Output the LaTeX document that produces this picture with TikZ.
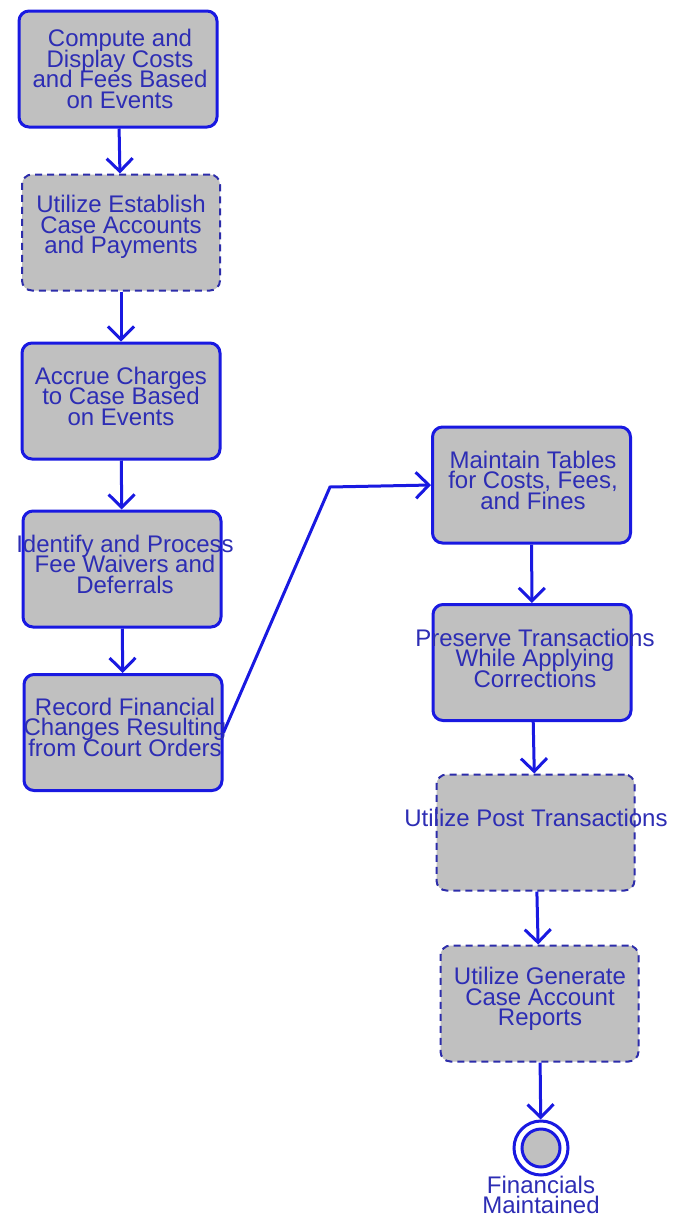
\documentclass[tikz,border=0pt]{standalone}
\usepackage{fontspec}
\setmainfont{Liberation Sans}
\usetikzlibrary{arrows.meta}
\definecolor{edgeblue}{RGB}{25,25,225}
\definecolor{dashblue}{RGB}{45,45,170}
\definecolor{labelblue}{RGB}{45,45,180}
\definecolor{boxgray}{RGB}{192,192,192}
\newcommand\boxfont{\fontsize{24}{20.5}\selectfont\lineskiplimit=-50pt\relax}
\tikzset{
  actbox/.style={draw=edgeblue, line width=3pt, fill=boxgray, rounded corners=10pt,
    minimum width=198pt, minimum height=116pt, inner sep=0pt},
  usebox/.style={actbox, draw=dashblue, line width=2pt, dash pattern=on 7pt off 5pt},
  acttext/.style={text=labelblue, font=\boxfont, align=center, inner sep=0pt},
  flow/.style={draw=edgeblue, line width=3pt, -{Straight Barb[length=13pt,width=26pt,line width=3pt]}}
}
\begin{document}
\begin{tikzpicture}[x=1pt,y=-1pt]
\useasboundingbox (0,0) rectangle (674,1218);
% left column
\node[actbox] (b1) at (118,69) {};
\node[usebox] (b2) at (121,232.5) {};
\node[actbox] (b3) at (121,401) {};
\node[actbox] (b4) at (122,569) {};
\node[actbox] (b5) at (123,732.5) {};
% right column
\node[actbox] (b6) at (531.5,485) {};
\node[actbox] (b7) at (532,662.5) {};
\node[usebox] (b8) at (535.5,832.5) {};
\node[usebox] (b9) at (539.5,1003.5) {};
% final state
\node[circle, draw=edgeblue, line width=3pt, minimum size=54pt, inner sep=0pt] (done) at (541,1148) {};
\node[circle, draw=edgeblue, line width=3pt, fill=boxgray, minimum size=38pt, inner sep=0pt] (donein) at (541,1148) {};
% labels
\node[acttext] (t1) at (120,69) {Compute and\\Display Costs\\and Fees Based\\on Events};
\node[acttext] (t2) at (121,227) {Utilize Establish\\Case Accounts\\and Payments};
\node[acttext] (t3) at (121,396) {Accrue Charges\\to Case Based\\on Events};
\node[acttext] (t4) at (125,564) {Identify and Process\\Fee Waivers and\\Deferrals};
\node[acttext] (t5) at (125,727) {Record Financial\\Changes Resulting\\from Court Orders};
\node[acttext] (t6) at (533,480) {Maintain Tables\\for Costs, Fees,\\and Fines};
\node[acttext] (t7) at (535,658) {Preserve Transactions\\While Applying\\Corrections};
\node[acttext] (t8) at (536,818) {Utilize Post Transactions};
\node[acttext] (t9) at (540,999) {Utilize Generate\\Case Account\\Reports};
\node[acttext] (tend) at (541,1195) {Financials\\Maintained};
% connectors
\draw[flow] (b1) -- (b2);
\draw[flow] (b2) -- (b3);
\draw[flow] (b3) -- (b4);
\draw[flow] (b4) -- (b5);
\coordinate (bend) at (330,487);
\draw[flow] (b5.east) -- (bend) -- (b6.west);
\draw[flow] (b6) -- (b7);
\draw[flow] (b7) -- (b8);
\draw[flow] (b8) -- (b9);
\draw[flow] (b9) -- (done);
\end{tikzpicture}
\end{document}
